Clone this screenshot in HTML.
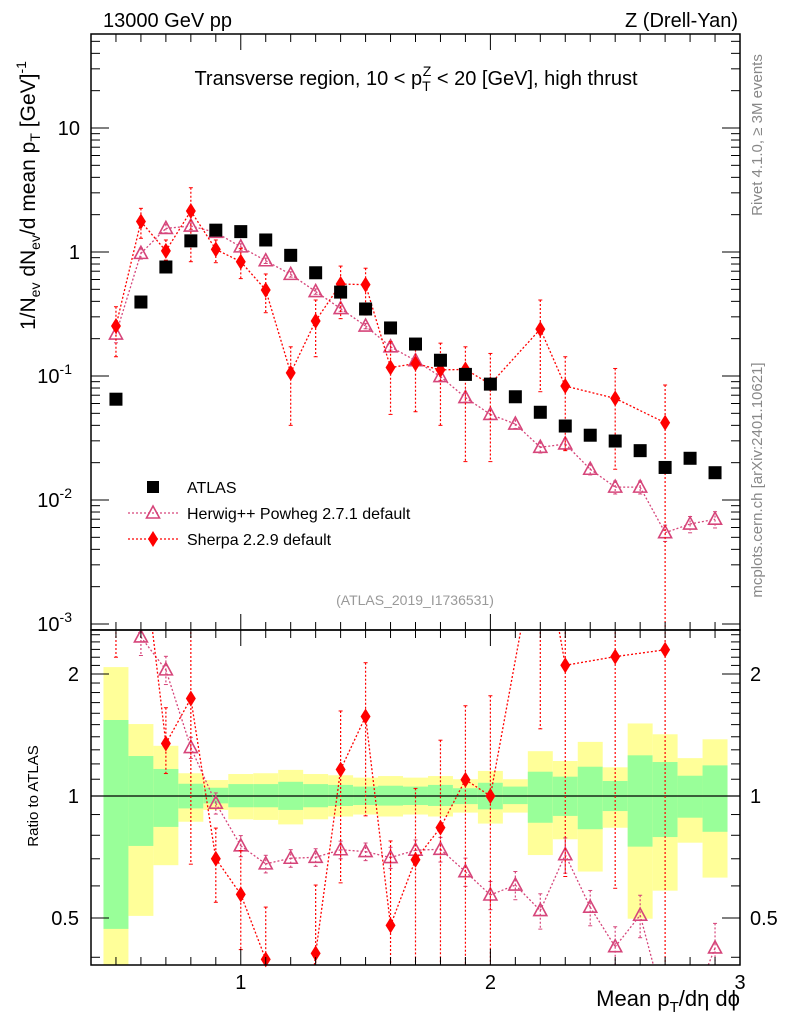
<!DOCTYPE html>
<html><head><meta charset="utf-8"><style>
html,body{margin:0;padding:0;background:#fff;width:786px;height:1024px;overflow:hidden;}
svg{display:block;font-family:"Liberation Sans",sans-serif;}
</style></head><body>
<svg id="plot" width="786" height="1024" viewBox="0 0 786 1024" xmlns="http://www.w3.org/2000/svg">
<g id="bands"></g>
<g id="marks"></g>
<g id="axes"></g>
<text x="103" y="27" font-size="20">13000 GeV pp</text>
<text x="738" y="27" font-size="20" text-anchor="end">Z (Drell-Yan)</text>
<text x="416" y="85" font-size="20" text-anchor="middle">Transverse region, 10 &lt; p<tspan font-size="14" dy="6">T</tspan><tspan font-size="14" dx="-8" dy="-15">Z</tspan><tspan dy="9"> &lt; 20 [GeV], high thrust</tspan></text>
<text transform="translate(762,135) rotate(-90)" font-size="15" fill="#888" text-anchor="middle">Rivet 4.1.0, ≥ 3M events</text>
<text transform="translate(762,480) rotate(-90)" font-size="15" fill="#888" text-anchor="middle">mcplots.cern.ch [arXiv:2401.10621]</text>
<text transform="translate(35,330) rotate(-90)" font-size="21" text-anchor="start">1/N<tspan font-size="14" dy="5">ev</tspan><tspan dy="-5"> dN</tspan><tspan font-size="14" dy="5">ev</tspan><tspan dy="-5">/d mean p</tspan><tspan font-size="14" dy="5">T</tspan><tspan dy="-5"> [GeV]</tspan><tspan font-size="14" dy="-9">-1</tspan></text>
<text transform="translate(38,796) rotate(-90)" font-size="15" text-anchor="middle">Ratio to ATLAS</text>
<text x="740" y="1006" font-size="22" text-anchor="end">Mean p<tspan font-size="15" dy="6">T</tspan><tspan dy="-6">/dη dϕ</tspan></text>
<text x="415" y="605" font-size="14" fill="#999" text-anchor="middle">(ATLAS_2019_I1736531)</text>
<g>
<rect x="147" y="481" width="12" height="12" fill="#000"/>
<text x="187" y="493" font-size="16">ATLAS</text>
<line x1="128" y1="513" x2="178" y2="513" stroke="#d6457a" stroke-width="1.3" stroke-dasharray="2,2"/>
<path d="M153,506 L159.5,518 L146.5,518 Z" fill="none" stroke="#d6457a" stroke-width="1.6"/>
<text x="187" y="519" font-size="16">Herwig++ Powheg 2.7.1 default</text>
<line x1="128" y1="539" x2="178" y2="539" stroke="#f00" stroke-width="1.3" stroke-dasharray="2,2"/>
<path d="M153,531 L158,539 L153,547 L148,539 Z" fill="#f00"/>
<text x="187" y="545" font-size="16">Sherpa 2.2.9 default</text>
</g>
</svg>
<script>
const xs = [0.5,0.6,0.7,0.8,0.9,1.0,1.1,1.2,1.3,1.4,1.5,1.6,1.7,1.8,1.9,2.0,2.1,2.2,2.3,2.4,2.5,2.6,2.7,2.8,2.9];
const atlas = [0.065,0.395,0.757,1.23,1.50,1.46,1.25,0.94,0.68,0.475,0.347,0.244,0.181,0.134,0.103,0.086,0.068,0.051,0.0395,0.0333,0.0299,0.025,0.0183,0.0217,0.0166];
const herwig = [0.218,0.975,1.55,1.62,1.44,1.10,0.85,0.66,0.48,0.35,0.253,0.172,0.133,0.099,0.067,0.049,0.041,0.0266,0.0283,0.0177,0.0127,0.0127,0.00545,0.0064,0.0070];
const herwigErrRel = [0.15,0.1,0.08,0.06,0.06,0.06,0.05,0.05,0.05,0.05,0.05,0.06,0.06,0.07,0.08,0.08,0.08,0.1,0.1,0.1,0.12,0.12,0.15,0.15,0.15];
const sherpaX = [0.5,0.6,0.7,0.8,0.9,1.0,1.1,1.2,1.3,1.4,1.5,1.6,1.7,1.8,1.9,2.0,2.2,2.3,2.5,2.7];
const sherpa = [0.253,1.76,1.02,2.14,1.05,0.835,0.494,0.106,0.278,0.552,0.545,0.117,0.126,0.112,0.113,0.086,0.239,0.083,0.066,0.042];
const sherpaHi = [0.362,2.25,1.25,3.3,1.25,1.07,0.665,0.172,0.41,0.77,0.74,0.189,0.189,0.184,0.172,0.152,0.41,0.143,0.115,0.0846];
const sherpaLo = [0.143,1.29,0.86,0.835,0.82,0.61,0.324,0.040,0.143,0.29,0.31,0.049,0.0515,0.040,0.0204,0.0204,0.0747,0.025,0.0177,0.0001];
const greenHi = [1.54,1.255,1.166,1.072,1.048,1.07,1.07,1.084,1.07,1.065,1.055,1.06,1.055,1.065,1.045,1.078,1.055,1.148,1.116,1.181,1.089,1.26,1.213,1.122,1.19];
const greenLo = [0.47,0.753,0.839,0.932,0.959,0.938,0.938,0.924,0.938,0.945,0.95,0.947,0.95,0.945,0.955,0.927,0.955,0.859,0.893,0.828,0.918,0.75,0.792,0.884,0.816];
const yellowHi = [2.08,1.505,1.33,1.138,1.095,1.133,1.138,1.16,1.133,1.125,1.11,1.12,1.11,1.12,1.10,1.153,1.10,1.29,1.22,1.36,1.177,1.51,1.42,1.24,1.38];
const yellowLo = [0.3,0.506,0.675,0.864,0.924,0.876,0.873,0.851,0.876,0.89,0.9,0.89,0.9,0.89,0.91,0.855,0.91,0.715,0.782,0.651,0.835,0.498,0.584,0.767,0.629];
const mainYLabels = ["10","1","10","10","10"];
const mainYExp = [1,0,-1,-2,-3];
const ratioTicks = [0.5,1,2];
const xTicks = [1,2,3];

const NS="http://www.w3.org/2000/svg";
const L=91,R=740,T=34,MB=630,RT=632,RB=965;
const X=v=>L+(v-0.4)*(R-L)/2.6;
const Y=v=>252-124*Math.log10(v);
const YR=v=>796-122*Math.log2(v);
function mk(tag,attrs,parent){const e=document.createElementNS(NS,tag);for(const k in attrs)e.setAttribute(k,attrs[k]);parent.appendChild(e);return e;}
const bands=document.getElementById('bands'),marks=document.getElementById('marks'),axes=document.getElementById('axes');
const clipR=v=>Math.max(RT,Math.min(RB,v));
const clipM=v=>Math.max(T,Math.min(MB,v));

xs.forEach((x,i)=>{
  const x0=X(x-0.05),w=X(x+0.05)-x0;
  let r=mk('rect',{x:x0,y:clipR(YR(yellowHi[i])),width:w,height:clipR(YR(yellowLo[i]))-clipR(YR(yellowHi[i])),fill:'#ffff99'},bands);
  
  
  let g=mk('rect',{x:x0,y:clipR(YR(greenHi[i])),width:w,height:clipR(YR(greenLo[i]))-clipR(YR(greenHi[i])),fill:'#99ff99'},bands);
  
  
});
let one=mk('line',{x1:L,x2:R,y1:YR(1),y2:YR(1),stroke:'#000','stroke-width':1.3},bands);



const gm=mk('g',{},marks);
const gr=mk('g',{},marks);
const HC='#d6457a';
function tri(g,x,y,name){const p=mk('path',{d:`M${x},${y-7} L${x+6.5},${y+5} L${x-6.5},${y+5} Z`,fill:'none',stroke:HC,'stroke-width':1.6},g);}
function dia(g,x,y,name){const p=mk('path',{d:`M${x},${y-8} L${x+5},${y} L${x},${y+8} L${x-5},${y} Z`,fill:'#f00'},g);}
function err(g,x,y1,y2,c,name,cl){const a=cl(y1),b=cl(y2);const l=mk('line',{x1:x,x2:x,y1:a,y2:b,stroke:c,'stroke-width':1.2,'stroke-dasharray':'2,2'},g);
 if(a===y1)mk('line',{x1:x-2,x2:x+2,y1:a,y2:a,stroke:c,'stroke-width':1},g);if(b===y2)mk('line',{x1:x-2,x2:x+2,y1:b,y2:b,stroke:c,'stroke-width':1},g);}
// draw a polyline as segments clipped to [ymin,ymax]
function clippedLine(g,pts,ymin,ymax,c,name){
  let d='';
  for(let i=0;i<pts.length-1;i++){
    let [x1,y1]=pts[i],[x2,y2]=pts[i+1];
    let t0=0,t1=1;const dy=y2-y1;
    if(dy===0){if(y1<ymin||y1>ymax)continue;}
    else{let ta=(ymin-y1)/dy,tb=(ymax-y1)/dy;let lo=Math.min(ta,tb),hi=Math.max(ta,tb);t0=Math.max(t0,lo);t1=Math.min(t1,hi);if(t0>=t1)continue;}
    const ax=x1+(x2-x1)*t0,ay=y1+dy*t0,bx=x1+(x2-x1)*t1,by=y1+dy*t1;
    d+=`M${ax.toFixed(2)},${ay.toFixed(2)} L${bx.toFixed(2)},${by.toFixed(2)} `;
  }
  const p=mk('path',{d:d,fill:'none',stroke:c,'stroke-width':1.3,'stroke-dasharray':'2,2'},g);
  
  
}

clippedLine(gm,xs.map((x,i)=>[X(x),Y(herwig[i])]),T,MB,HC,'herwig-line');
xs.forEach((x,i)=>{const v=herwig[i],e=herwigErrRel[i];err(gm,X(x),Y(v*(1+e)),Y(v*(1-e)),HC,'herwig-error-bar',clipM);tri(gm,X(x),Y(v),'herwig-point');});
clippedLine(gm,sherpaX.map((x,i)=>[X(x),Y(sherpa[i])]),T,MB,'#f00','sherpa-line');
sherpaX.forEach((x,i)=>{err(gm,X(x),Y(sherpaHi[i]),Y(sherpaLo[i]),'#f00','sherpa-error-bar',clipM);dia(gm,X(x),Y(sherpa[i]),'sherpa-point');});
xs.forEach((x,i)=>{const r=mk('rect',{x:X(x)-6.5,y:Y(atlas[i])-6.5,width:13,height:13,fill:'#000'},gm);});

const aAt=x=>atlas[xs.findIndex(v=>Math.abs(v-x)<1e-6)];
clippedLine(gr,xs.map((x,i)=>[X(x),YR(herwig[i]/atlas[i])]),RT,RB,HC,'herwig-ratio-line');
xs.forEach((x,i)=>{const r=herwig[i]/atlas[i],e=herwigErrRel[i];const y=YR(r);if(y>RT-2&&y<RB+2){err(gr,X(x),YR(r*(1+e)),YR(r*(1-e)),HC,'herwig-ratio-error',clipR);tri(gr,X(x),y,'herwig-ratio-point');}});
clippedLine(gr,sherpaX.map((x,i)=>[X(x),YR(sherpa[i]/aAt(x))]),RT,RB,'#f00','sherpa-ratio-line');
sherpaX.forEach((x,i)=>{const a=aAt(x);const yh=YR(sherpaHi[i]/a),yl=YR(sherpaLo[i]/a);if(yl>RT&&yh<RB)err(gr,X(x),yh,yl,'#f00','sherpa-ratio-error',clipR);const y=YR(sherpa[i]/a);if(y>RT&&y<RB-4)dia(gr,X(x),y,'sherpa-ratio-point');});

[[T,MB],[MB,RB]].forEach(([t,b],k)=>{const f=mk('rect',{x:L,y:t,width:R-L,height:b-t,fill:'none',stroke:'#000','stroke-width':1.5},axes);});
for(let k=4;k<=30;k++){const v=k/10,x=X(v),maj=(k%10===0);const h=maj?16:8;
 [[T,1],[MB,-1],[MB,1],[RB,-1]].forEach(([y,d])=>mk('line',{x1:x,x2:x,y1:y,y2:y+d*h,stroke:'#000','stroke-width':1},axes));}
xTicks.forEach(v=>{const t=mk('text',{x:X(v),y:RB+24,'font-size':20,'text-anchor':'middle'},axes);t.textContent=v;});
for(let d=-4;d<=1;d++){for(let m=1;m<10;m++){const v=m*Math.pow(10,d),y=Y(v);if(y<T||y>MB)continue;const h=m===1?18:9;
 mk('line',{x1:L,x2:L+h,y1:y,y2:y,stroke:'#000','stroke-width':1},axes);mk('line',{x1:R,x2:R-h,y1:y,y2:y,stroke:'#000','stroke-width':1},axes);}}
mainYLabels.forEach((s,i)=>{const e=mainYExp[i],y=Y(Math.pow(10,e));const t=mk('text',{x:80,y:y+7,'font-size':20,'text-anchor':'end'},axes);
 
 if(e<0){t.setAttribute('x',72);t.textContent=s;const sp=mk('tspan',{'font-size':14,dy:-9},t);sp.textContent=String(e);}else t.textContent=s;});
for(let v=0.4;v<=2.5001;v+=0.1){const y=YR(v);if(y<RT||y>RB)continue;const maj=[0.5,1,2].some(q=>Math.abs(q-v)<1e-6);const h=maj?18:9;
 mk('line',{x1:L,x2:L+h,y1:y,y2:y,stroke:'#000','stroke-width':1},axes);mk('line',{x1:R,x2:R-h,y1:y,y2:y,stroke:'#000','stroke-width':1},axes);}
ratioTicks.forEach(v=>{const y=YR(v)+7;
 let t=mk('text',{x:79,y:y,'font-size':20,'text-anchor':'end'},axes);t.textContent=v;
 let t2=mk('text',{x:750,y:y,'font-size':20,'text-anchor':'start'},axes);t2.textContent=v;});
</script>
</body></html>
